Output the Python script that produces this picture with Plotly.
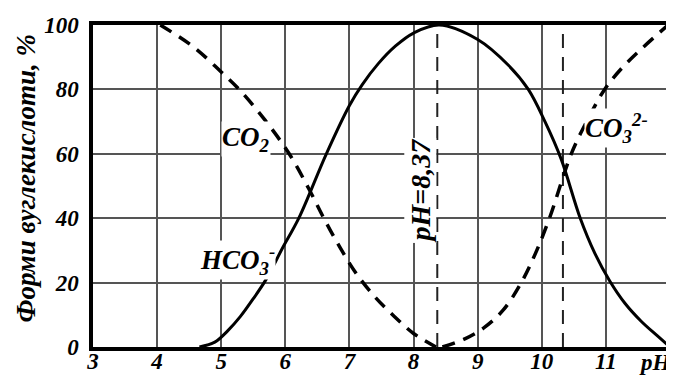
"""
Carbonic acid species vs pH
"""

import plotly.graph_objects as go

# HCO3- (solid)
ph_hco3 = [4.66, 4.9, 5.1, 5.3, 5.5, 5.7, 5.95, 6.21, 6.64, 7.0, 7.2, 7.45, 7.72, 8.0, 8.4,
           9.0, 9.48, 9.79, 10.05, 10.3, 10.6, 10.83, 11.06, 11.3, 11.55, 11.8, 12.0]
hco3 = [0, 1.5, 5, 9.5, 15, 21, 30.5, 40, 60, 75, 81.5, 88, 93.5, 97.5, 100,
        95.5, 87.5, 80, 70, 58.5, 40, 29, 20.5, 13.5, 8, 3.5, 0]

# CO2 (dashed)
ph_co2 = [4.05, 4.58, 5.0, 5.28, 5.69, 6.06, 6.37, 6.6, 6.85, 7.1, 7.4, 7.7, 8.0, 8.35]
co2 = [100, 93, 85.4, 80, 70.3, 60, 49, 40, 31, 23, 15.5, 9.5, 4.2, 0]

# CO3 2- (dashed)
ph_co3 = [8.45, 8.8, 9.1, 9.4, 9.68, 9.9, 10.12, 10.46, 10.7, 10.98, 11.24, 11.55, 11.97]
co3 = [0, 2.5, 6, 11.5, 20, 29, 40, 60, 70, 80, 86.4, 92.5, 100]

ph_marks = [8.37, 10.33]
x_ticks = [3, 4, 5, 6, 7, 8, 9, 10, 11]
y_ticks = [0, 20, 40, 60, 80, 100]

SERIF = "Liberation Serif"
BI = dict(family=SERIF, color="black", weight="bold", style="italic")

fig = go.Figure()

# vertical reference lines
for xm in ph_marks:
    fig.add_trace(go.Scatter(
        x=[xm, xm], y=[0, 100], mode="lines",
        line=dict(color="#222222", width=2, dash="14px,9px"),
        hoverinfo="skip",
    ))

fig.add_trace(go.Scatter(
    x=ph_co2, y=co2, mode="lines", line_shape="spline",
    line=dict(color="black", width=3.5, dash="13px,9px"),
))
fig.add_trace(go.Scatter(
    x=ph_co3, y=co3, mode="lines", line_shape="spline",
    line=dict(color="black", width=3.5, dash="13px,9px"),
))
fig.add_trace(go.Scatter(
    x=ph_hco3, y=hco3, mode="lines", line_shape="spline",
    line=dict(color="black", width=3),
))

# species labels
labels = [
    ("CO<sub>2</sub>", 5.39, 64.5, 0, 27),
    ("HCO<sub>3</sub><sup>-</sup>", 5.25, 27, 0, 27),
    ("CO<sub>3</sub><sup>2-</sup>", 11.17, 68, 0, 27),
    ("pH=8,37", 8.11, 48.5, -90, 28),
]
for txt, xx, yy, ang, sz in labels:
    fig.add_annotation(
        text=txt, x=xx, y=yy, xref="x", yref="y", showarrow=False,
        textangle=ang, bgcolor="white", borderpad=0,
        font=dict(size=sz, **BI),
    )

fig.add_annotation(
    text="pH", x=11.77, y=0, xref="x", yref="paper", yanchor="top", yshift=-2,
    showarrow=False, font=dict(size=23, **BI), borderpad=0,
)
fig.add_annotation(
    text="Форми вуглекислоти, %", x=-0.117, y=0.525, xref="paper", yref="paper",
    xanchor="center", yanchor="middle", borderpad=0,
    textangle=-90, showarrow=False, font=dict(size=27, **BI),
)

fig.update_xaxes(
    range=[3, 12], tickvals=x_ticks, automargin=False,
    showgrid=True, gridcolor="#555555", gridwidth=1.5,
    showline=True, linecolor="black", linewidth=3.5, mirror=True,
    zeroline=False, tickfont=dict(size=23, **BI), ticklabelstandoff=-9,
)
fig.update_yaxes(
    range=[0, 100], tickvals=y_ticks, automargin=False,
    showgrid=True, gridcolor="#555555", gridwidth=1.5,
    showline=True, linecolor="black", linewidth=3.5, mirror=True,
    zeroline=False, tickfont=dict(size=23, **BI), ticklabelstandoff=6,
)
fig.update_layout(
    width=666, height=368,
    margin=dict(l=85, r=4, t=17, b=29, autoexpand=False),
    showlegend=False,
    paper_bgcolor="#FFFFFF",
    plot_bgcolor="#FFFFFF",
)

fig.write_html("out.html")
